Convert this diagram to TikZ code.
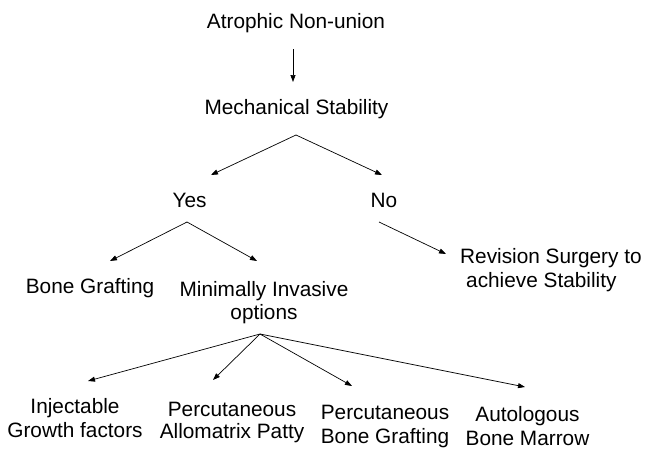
\documentclass[tikz,border=0pt]{standalone}
\usepackage{fontspec}
\setmainfont{Liberation Sans}
\usetikzlibrary{arrows.meta}
\tikzset{
  lbl/.style={inner sep=0pt, anchor=base, font=\fontsize{20.8}{24}\selectfont},
  arr/.style={-{Triangle[length=7pt,width=5pt]}, line width=0.7pt, black}
}
\begin{document}
\begin{tikzpicture}[x=1pt,y=-1pt]
\useasboundingbox (0,0) rectangle (646,450);
% texts
\node[lbl] (atro) at (296,28) {Atrophic Non-union};
\node[lbl] (mech) at (296.5,114) {Mechanical Stability};
\node[lbl] (yes) at (189.5,207) {Yes};
\node[lbl] (no) at (384,207) {No};
\node[lbl] (bone) at (90,293) {Bone Grafting};
\node[lbl] (mis) at (264,296.5) {\begin{tabular}[t]{@{}c@{}}Minimally Invasive\\[-1pt] options\end{tabular}};
\node[lbl, anchor=base west] (rev) at (460,263) {\begin{tabular}[t]{@{}l@{}}Revision Surgery to\\ \hspace*{6pt}achieve Stability\end{tabular}};
\node[lbl] (inj) at (75,413) {\begin{tabular}[t]{@{}c@{}}Injectable\\ Growth factors\end{tabular}};
\node[lbl] (allo) at (232,416) {\begin{tabular}[t]{@{}c@{}}Percutaneous\\[-2pt] Allomatrix Patty\end{tabular}};
\node[lbl] (pbg) at (385,419) {\begin{tabular}[t]{@{}c@{}}Percutaneous\\ Bone Grafting\end{tabular}};
\node[lbl] (auto) at (527.5,421) {\begin{tabular}[t]{@{}c@{}}Autologous\\ Bone Marrow\end{tabular}};
% connector points
\coordinate (a0) at (293,49);
\coordinate (t0) at (293,82);
\coordinate (a1) at (296,135);
\coordinate (tyes) at (211,175);
\coordinate (tno) at (382,175);
\coordinate (a2) at (187,222);
\coordinate (tbone) at (110,261);
\coordinate (tmis) at (257,261);
\coordinate (a3) at (379,222);
\coordinate (trev) at (446,254);
\coordinate (a4) at (260,334);
\coordinate (tinj) at (88,381);
\coordinate (tallo) at (213,380);
\coordinate (tpbg) at (352,386);
\coordinate (tauto) at (525,387);
% connectors
\draw[arr] (a0) -- (t0);
\draw[arr] (a1) -- (tyes);
\draw[arr] (a1) -- (tno);
\draw[arr] (a2) -- (tbone);
\draw[arr] (a2) -- (tmis);
\draw[arr] (a3) -- (trev);
\draw[arr] (a4) -- (tinj);
\draw[arr] (a4) -- (tallo);
\draw[arr] (a4) -- (tpbg);
\draw[arr] (a4) -- (tauto);
\end{tikzpicture}
\end{document}
